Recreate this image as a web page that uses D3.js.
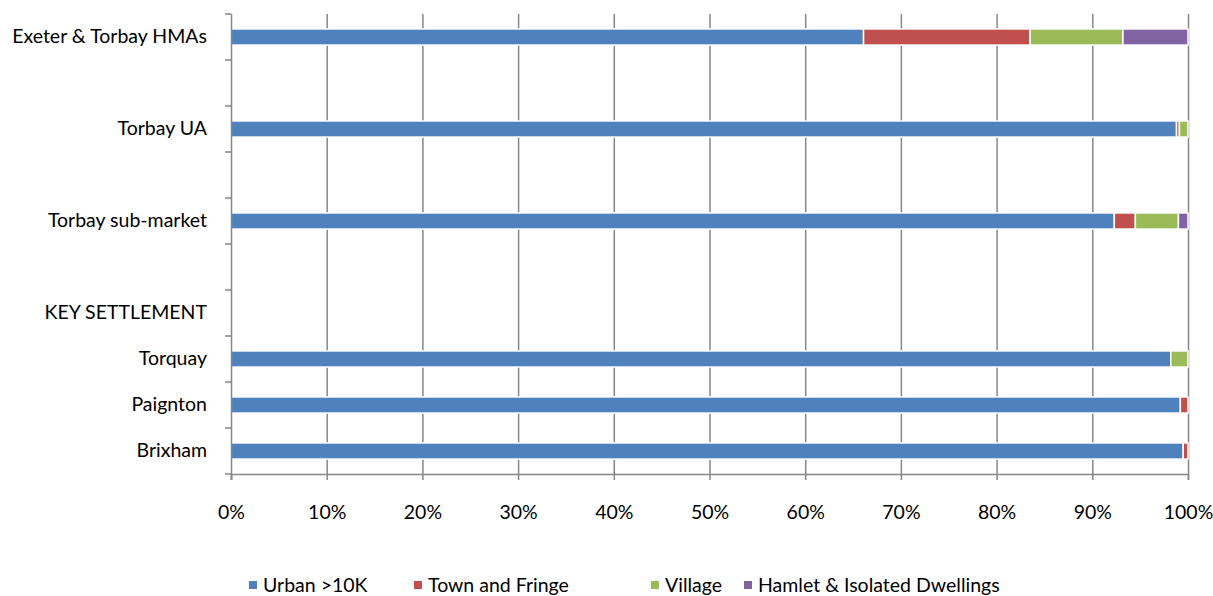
<!DOCTYPE html>
<html lang="en">
<head>
    <meta charset="UTF-8">
    <title>Settlement type share</title>
    <script src="https://d3js.org/d3.v7.min.js"></script>
    <style>
        body {
            margin: 0;
            background: #ffffff;
        }
        svg text {
            font-family: Lato, "Open Sans", sans-serif;
            fill: #000;
        }
    </style>
</head>
<body>
<div id="chart"></div>
<script>
    // rows, top to bottom (blank rows are spacers in the original sheet)
    const categories = ["Exeter & Torbay HMAs", "", "Torbay UA", "", "Torbay sub-market", "", "KEY SETTLEMENT", "Torquay", "Paignton", "Brixham"];

    // shares in %
    const urban   = [66.1, 0, 98.8, 0, 92.3, 0, 0, 98.2, 99.2, 99.5];
    const town    = [17.4, 0,  0.3, 0,  2.2, 0, 0,  0.0,  0.8,  0.5];
    const village = [ 9.7, 0,  0.9, 0,  4.5, 0, 0,  1.8,  0.0,  0.0];
    const hamlet  = [ 6.8, 0,  0.0, 0,  1.0, 0, 0,  0.0,  0.0,  0.0];

    const seriesNames = ["Urban >10K", "Town and Fringe", "Village", "Hamlet & Isolated Dwellings"];
    const seriesColors = ["#4F81BD", "#C0504D", "#9BBB59", "#8064A2"];
    const xTicks = [0, 10, 20, 30, 40, 50, 60, 70, 80, 90, 100];

    const width = 1213;
    const height = 596;
    const margin = {top: 14, right: 25, bottom: 122, left: 231};
    const fontSize = "19.5px";

    const svg = d3.select("#chart")
        .append("svg")
        .attr("width", width)
        .attr("height", height);

    const rows = categories.map((c, i) => ({
        idx: i,
        "Urban >10K": urban[i],
        "Town and Fringe": town[i],
        "Village": village[i],
        "Hamlet & Isolated Dwellings": hamlet[i]
    }));

    const x = d3.scaleLinear()
        .domain([0, 100])
        .range([margin.left, width - margin.right]);

    const y = d3.scaleBand()
        .domain(d3.range(categories.length))
        .range([margin.top, height - margin.bottom])
        .paddingInner(0.65)
        .paddingOuter(0.325);

    const axisColor = "#878787";

    // vertical gridlines
    svg.append("g")
        .selectAll("line")
        .data(xTicks.slice(1))
        .enter()
        .append("line")
        .attr("x1", d => x(d) + 0.5)
        .attr("x2", d => x(d) + 0.5)
        .attr("y1", margin.top)
        .attr("y2", height - margin.bottom)
        .attr("stroke", axisColor)
        .attr("stroke-width", 1.5);

    // stacked bars
    const stack = d3.stack().keys(seriesNames);
    const stacked = stack(rows);

    svg.append("g")
        .selectAll("g")
        .data(stacked)
        .enter()
        .append("g")
        .attr("fill", (d, i) => seriesColors[i])
        .selectAll("rect")
        .data(d => d.filter(s => s[1] - s[0] > 0))
        .enter()
        .append("rect")
        .attr("x", d => x(d[0]))
        .attr("y", d => y(d.data.idx))
        .attr("width", d => x(d[1]) - x(d[0]))
        .attr("height", y.bandwidth())
        .attr("stroke", "#fff")
        .attr("stroke-width", 1.5);

    // x axis
    const xAxis = svg.append("g")
        .attr("transform", `translate(0,${height - margin.bottom})`)
        .call(d3.axisBottom(x)
            .tickValues(xTicks)
            .tickFormat(d => d + "%")
            .tickSize(6)
            .tickPadding(25));
    xAxis.select(".domain").attr("stroke", axisColor).attr("stroke-width", 1.5);
    xAxis.selectAll(".tick line").attr("stroke", axisColor).attr("stroke-width", 1.5);
    xAxis.selectAll("text").style("font-size", fontSize);

    // y axis: labels at band centres, ticks at band edges
    const yAxis = svg.append("g")
        .attr("transform", `translate(${margin.left},0)`)
        .call(d3.axisLeft(y)
            .tickFormat(i => categories[i])
            .tickSize(0)
            .tickPadding(24));
    yAxis.select(".domain").remove();
    yAxis.selectAll("text").style("font-size", fontSize);

    const edges = d3.range(categories.length + 1).map(i => margin.top + i * y.step());
    svg.append("line")
        .attr("x1", margin.left + 0.5)
        .attr("x2", margin.left + 0.5)
        .attr("y1", margin.top)
        .attr("y2", height - margin.bottom + 6)
        .attr("stroke", axisColor)
        .attr("stroke-width", 1.5);
    svg.append("g")
        .selectAll("line")
        .data(edges)
        .enter()
        .append("line")
        .attr("x1", margin.left - 6)
        .attr("x2", margin.left)
        .attr("y1", d => d)
        .attr("y2", d => d)
        .attr("stroke", axisColor)
        .attr("stroke-width", 1.5);

    // legend
    const legendX = [249, 414, 651, 744];
    const legend = svg.append("g")
        .selectAll("g")
        .data(seriesNames)
        .enter()
        .append("g")
        .attr("transform", (d, i) => `translate(${legendX[i]},585)`);
    legend.append("rect")
        .attr("x", 0)
        .attr("y", -4)
        .attr("width", 8)
        .attr("height", 8)
        .attr("fill", (d, i) => seriesColors[i]);
    legend.append("text")
        .attr("x", 14)
        .attr("dy", "0.35em")
        .style("font-size", fontSize)
        .text(d => d);
</script>
</body>
</html>
